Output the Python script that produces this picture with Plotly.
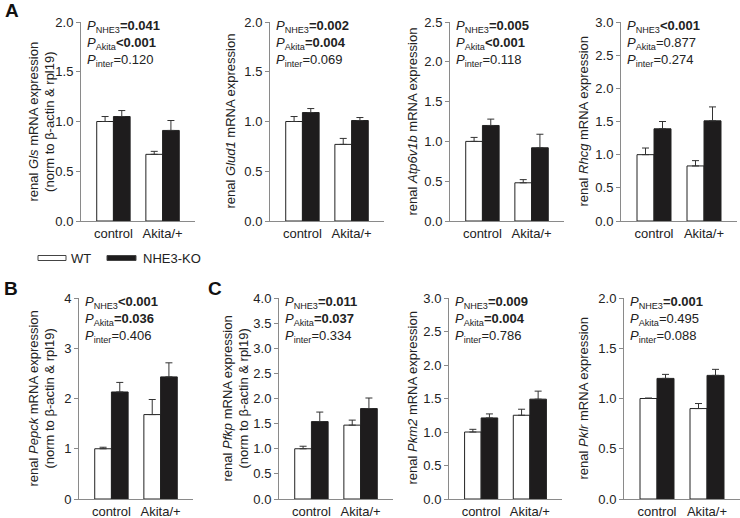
import plotly.graph_objects as go

W, H = 740, 518

categories = ["control", "Akita/+"]
genes = ["Gls", "Glud1", "Atp6v1b", "Rhcg", "Pepck", "Pfkp", "Pkm2", "Pklr"]

wt_control = [1.00, 1.00, 1.00, 1.00, 1.00, 1.00, 1.00, 1.00]
wt_akita = [0.67, 0.77, 0.48, 0.83, 1.68, 1.47, 1.25, 0.90]
ko_control = [1.05, 1.09, 1.20, 1.39, 2.13, 1.54, 1.21, 1.20]
ko_akita = [0.91, 1.01, 0.92, 1.51, 2.43, 1.80, 1.49, 1.23]

wt_control_err = [0.05, 0.05, 0.05, 0.10, 0.03, 0.05, 0.04, 0.005]
wt_akita_err = [0.03, 0.06, 0.04, 0.08, 0.30, 0.10, 0.09, 0.05]
ko_control_err = [0.06, 0.04, 0.08, 0.11, 0.19, 0.19, 0.06, 0.04]
ko_akita_err = [0.10, 0.03, 0.17, 0.21, 0.28, 0.21, 0.12, 0.06]

y_max = [2.0, 2.0, 2.5, 3.0, 4, 4.0, 3.0, 2.0]
y_step = [0.5, 0.5, 0.5, 0.5, 1, 0.5, 0.5, 0.5]

p_nhe3 = ["=0.041", "=0.002", "=0.005", "<0.001", "<0.001", "=0.011", "=0.009", "=0.001"]
p_akita = ["<0.001", "=0.004", "<0.001", "=0.877", "=0.036", "=0.037", "=0.004", "=0.495"]
p_inter = ["=0.120", "=0.069", "=0.118", "=0.274", "=0.406", "=0.334", "=0.786", "=0.088"]

panel_letters = ["A", "B", "C"]

# layout geometry (pixels)
x_dom_px = [(81, 195), (270, 384), (450, 564), (621, 737),
            (79, 193), (279, 393), (449, 562), (624, 740)]
y_dom_px = [(22, 221)] * 4 + [(298, 499)] * 4
two_line = [True, False, False, False, True, True, False, False]
title_x_px = [41, 230, 412, 583, 41, 235, 412, 583]
letter_pos = [(3, -2), (2, 276), (206, 276)]

FONT = "Liberation Sans, Arial, sans-serif"
BLACK = "#1e1c1d"
AXIS = "#8a8a8a"


def px(x):
    return x / W


def py(y):
    return 1 - y / H


fig = go.Figure()

for i, g in enumerate(genes):
    n = i + 1
    xa = "x" if n == 1 else f"x{n}"
    ya = "y" if n == 1 else f"y{n}"
    fig.add_trace(go.Bar(
        x=categories, y=[wt_control[i], wt_akita[i]], name="WT",
        marker=dict(color="white", line=dict(color="#222", width=1)),
        error_y=dict(type="data", symmetric=False,
                     array=[wt_control_err[i], wt_akita_err[i]],
                     arrayminus=[0, 0], color="#333", thickness=1, width=3.5),
        xaxis=xa, yaxis=ya, showlegend=False, offsetgroup="wt"))
    fig.add_trace(go.Bar(
        x=categories, y=[ko_control[i], ko_akita[i]], name="NHE3-KO",
        marker=dict(color=BLACK, line=dict(color="#222", width=1)),
        error_y=dict(type="data", symmetric=False,
                     array=[ko_control_err[i], ko_akita_err[i]],
                     arrayminus=[0, 0], color="#333", thickness=1, width=3.5),
        xaxis=xa, yaxis=ya, showlegend=False, offsetgroup="ko"))

    x0, x1 = x_dom_px[i]
    yt, yb = y_dom_px[i]
    suffix = "" if n == 1 else str(n)
    fig.layout["xaxis" + suffix] = dict(
        domain=[px(x0), px(x1)], anchor=ya, range=[-0.66, 1.66],
        showline=True, linecolor=AXIS, linewidth=1, ticks="",
        showgrid=False, zeroline=False, fixedrange=True, automargin=False,
        tickfont=dict(family=FONT, size=13, color="#222"))
    ticks = []
    v = 0.0
    while v <= y_max[i] + 1e-9:
        ticks.append(round(v, 2))
        v += y_step[i]
    fig.layout["yaxis" + suffix] = dict(
        domain=[py(yb), py(yt)], anchor=xa, range=[0, y_max[i]],
        showline=True, linecolor=AXIS, linewidth=1, ticks="outside",
        ticklen=4, tickcolor=AXIS, tickvals=ticks,
        tickformat="d" if y_step[i] == 1 else ".1f",
        showgrid=False, zeroline=False, fixedrange=True, automargin=False,
        tickfont=dict(family=FONT, size=13, color="#222"))

    # y-axis title
    title = f"renal <i>{g}</i> mRNA expression"
    if two_line[i]:
        title += "<br>(norm to β-actin & rpl19)"
    fig.add_annotation(
        text=title, textangle=-90, xref="paper", yref="paper",
        x=px(title_x_px[i]), y=py((yt + yb) / 2), xanchor="center",
        yanchor="middle", showarrow=False,
        font=dict(family=FONT, size=13, color="#222"))

    # P-value text
    def fmt(label, val):
        sig = val.startswith("<") or float(val[1:]) < 0.05
        v_txt = val.replace("<", "&lt;")
        return f"<i>P</i><sub>{label}</sub>" + (f"<b>{v_txt}</b>" if sig else v_txt)

    ptxt = "<br>".join([fmt("NHE3", p_nhe3[i]), fmt("Akita", p_akita[i]),
                        fmt("inter", p_inter[i])])
    fig.add_annotation(
        text=ptxt, xref="paper", yref="paper", x=px(x0 + 4), y=py(yt - 6),
        xanchor="left", yanchor="top", align="left", showarrow=False,
        font=dict(family=FONT, size=13, color="#222"))

for letter, (lx, ly) in zip(panel_letters, letter_pos):
    fig.add_annotation(
        text=f"<b>{letter}</b>", xref="paper", yref="paper",
        x=px(lx), y=py(ly), xanchor="left", yanchor="top", showarrow=False,
        font=dict(family=FONT, size=19, color="#111"))

# legend (drawn manually to match the wide flat swatches)
legend_items = [("WT", "white", 38, 66, 69), ("NHE3-KO", BLACK, 107, 136, 141)]
for label, fill, sx0, sx1, tx in legend_items:
    fig.add_shape(type="rect", xref="paper", yref="paper",
                  x0=px(sx0), x1=px(sx1), y0=py(260.5), y1=py(255.5),
                  fillcolor=fill, line=dict(color="#444", width=1))
    fig.add_annotation(text=label, xref="paper", yref="paper", x=px(tx),
                       y=py(258), xanchor="left", yanchor="middle",
                       showarrow=False,
                       font=dict(family=FONT, size=13, color="#222"))

fig.update_layout(
    template="none",
    width=W, height=H, autosize=False,
    margin=dict(l=0, r=0, t=0, b=0, pad=0, autoexpand=False),
    paper_bgcolor="white", plot_bgcolor="white",
    barmode="group", bargap=0.32, bargroupgap=0,
    font=dict(family=FONT, size=13, color="#222"),
)

fig.write_html(
    "out.html",
    config=dict(responsive=False, displayModeBar=False),
    post_script="document.body.style.margin='0';document.body.style.padding='0';"
                "document.body.style.overflow='hidden';",
)
